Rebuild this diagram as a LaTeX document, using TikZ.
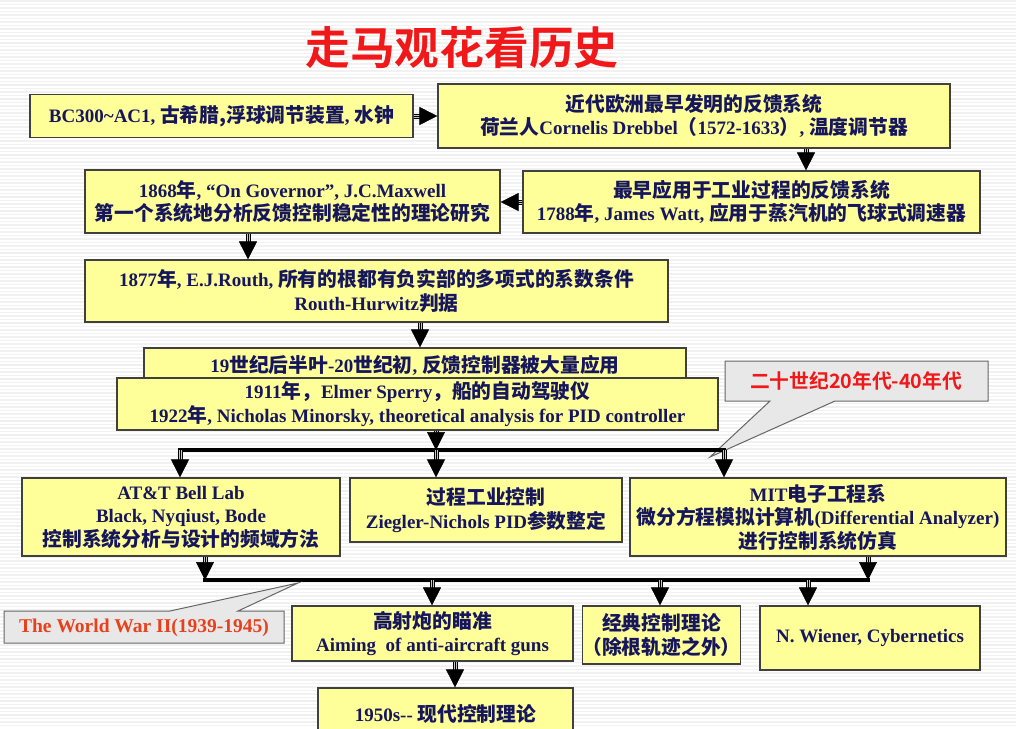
\documentclass[tikz,border=0pt]{standalone}
\usepackage{fontspec}
\setmainfont{Liberation Serif}
\newfontfamily\Z{Noto Sans CJK SC Bold}[Scale=1.04]
\usetikzlibrary{arrows.meta}
\definecolor{navy}{HTML}{16165C}
\definecolor{boxy}{HTML}{FFFF99}
\definecolor{tred}{HTML}{F01818}
\definecolor{ored}{HTML}{E8401C}
\tikzset{
  ybox/.style={draw=black!75, line width=1.2pt, fill=boxy, inner sep=0pt, align=center,
    text=navy, font=\fontsize{19}{23.5}\selectfont\bfseries},
  callout/.style={draw=black!60, line width=1pt, fill=gray!18},
  shaft/.style={draw=black, line width=1pt, double=gray!45, double distance=3pt, shorten >=15pt},
  ahead/.style={draw=black, line width=0.6pt, -{Triangle[length=18pt,width=18pt]}},
  bus/.style={line width=4pt, line cap=rect}
}
\newcommand\darr[2]{\draw[shaft] (#1) -- (#2); \draw[ahead] (#1) -- (#2);}
\begin{document}
\begin{tikzpicture}[x=1pt,y=-1pt]
\useasboundingbox (0,0) rectangle (1016,728);
\clip (0,0) rectangle (1016,728);
\fill[white] (0,0) rectangle (1016,728);
\foreach \yy in {1,4.5,...,728} \draw[gray!11, line width=1.3pt] (0,\yy) -- (1016,\yy);

% title
\node[text=tred, font=\fontsize{43}{50}\selectfont\Z] (title) at (462,48) {走马观花看历史};

% boxes
\node[ybox, minimum width=383, minimum height=43] (b1) at (221.5,116) {BC300\textasciitilde AC1, {\Z 古希腊,浮球调节装置}, {\Z 水钟}};
\node[ybox, minimum width=512, minimum height=64] (b2) at (694,116) {{\Z 近代欧洲最早发明的反馈系统}\\{\Z 荷兰人}Cornelis Drebbel{\Z （}1572-1633{\Z ）}, {\Z 温度调节器}};
\node[ybox, minimum width=415, minimum height=63] (b3) at (292.5,201.5) {1868{\Z 年}, “On Governor”, J.C.Maxwell\\{\Z 第一个系统地分析反馈控制稳定性的理论研究}};
\node[ybox, minimum width=457, minimum height=62] (b4) at (751.5,202) {{\Z 最早应用于工业过程的反馈系统}\\1788{\Z 年}, James Watt, {\Z 应用于蒸汽机的飞球式调速器}};
\node[ybox, minimum width=583, minimum height=62] (b5) at (376.5,291) {1877{\Z 年}, E.J.Routh, {\Z 所有的根都有负实部的多项式的系数条件}\\Routh-Hurwitz{\Z 判据}};
\node[ybox, minimum width=542, minimum height=34, text depth=2pt] (b6) at (415,365) {19{\Z 世纪后半叶}-20{\Z 世纪初}, {\Z 反馈控制器被大量应用}};
\node[ybox, minimum width=601, minimum height=52] (b7) at (417.5,404) {1911{\Z 年，}Elmer Sperry{\Z ，船的自动驾驶仪}\\1922{\Z 年}, Nicholas Minorsky, theoretical analysis for PID controller};

% callout 1
\draw[callout] (725,361) -- (988,361) -- (988,401) -- (835,401) -- (710,457) -- (770,401) -- (725,401) -- cycle;
\node[text=tred, font=\fontsize{19}{22}\selectfont\Z] (c1) at (856,381) {二十世纪20年代-40年代};

% top bus
\coordinate (t0) at (180,450);
\coordinate (t1) at (436,450);
\coordinate (t2) at (724,450);
\draw[bus] (t0) -- (t2);

\node[ybox, minimum width=318, minimum height=78] (b8) at (181,517) {AT\&T Bell Lab\\Black, Nyqiust, Bode\\{\Z 控制系统分析与设计的频域方法}};
\node[ybox, minimum width=272, minimum height=64] (b9) at (486,510) {{\Z 过程工业控制}\\Ziegler-Nichols PID{\Z 参数整定}};
\node[ybox, minimum width=376, minimum height=78] (b10) at (818,517) {MIT{\Z 电子工程系}\\{\Z 微分方程模拟计算机}(Differential Analyzer)\\{\Z 进行控制系统仿真}};

% lower bus
\coordinate (l0) at (205,580);
\coordinate (l1) at (432,580);
\coordinate (l2) at (660,580);
\coordinate (l3) at (808,580);
\coordinate (l4) at (868,580);
\draw[bus] (l0) -- (l4);

% callout 2
\draw[callout] (4,611) -- (170,611) -- (298,583) -- (238,611) -- (284,611) -- (284,643) -- (4,643) -- cycle;
\node[text=ored, font=\fontsize{19.5}{22}\selectfont\bfseries] (c2) at (144,628) {The World War II(1939-1945)};

\node[ybox, minimum width=281, minimum height=55] (b11) at (432.5,633.5) {{\Z 高射炮的瞄准}\\Aiming\ \ of anti-aircraft guns};
\node[ybox, minimum width=157, minimum height=58] (b12) at (661.5,635) {{\Z 经典控制理论}\\{\Z （除根轨迹之外）}};
\node[ybox, minimum width=220, minimum height=64] (b13) at (870,638) {N. Wiener, Cybernetics};
\node[ybox, minimum width=255, minimum height=52] (b14) at (445.5,714) {1950s-{}- {\Z 现代控制理论}};

% arrows
\darr{b1.east}{b1.east -| b2.west}
\coordinate (x2) at (806,0);
\darr{b2.south -| x2}{b4.north -| x2}
\darr{b4.west}{b4.west -| b3.east}
\coordinate (x4) at (248,0);
\darr{b3.south -| x4}{b5.north -| x4}
\coordinate (x5) at (420,0);
\darr{b5.south -| x5}{b6.north -| x5}
\darr{b7.south -| t1}{t1}
\darr{t0}{b8.north -| t0}
\darr{t1}{b9.north -| t1}
\darr{t2}{b10.north -| t2}
\darr{b8.south -| l0}{l0}
\darr{b10.south -| l4}{l4}
\darr{l1}{b11.north -| l1}
\darr{l2}{b12.north -| l2}
\darr{l3}{b13.north -| l3}
\coordinate (x15) at (455,0);
\darr{b11.south -| x15}{b14.north -| x15}
\end{tikzpicture}
\end{document}
